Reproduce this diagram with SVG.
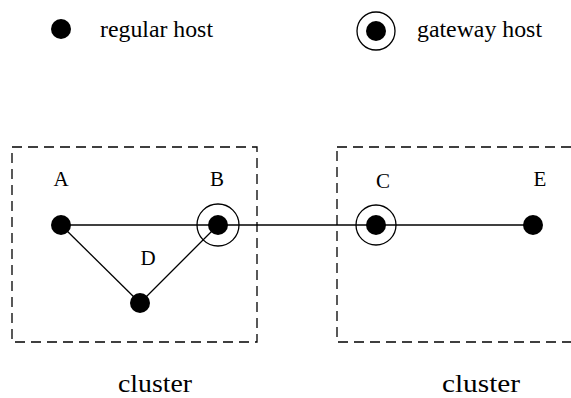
<svg xmlns="http://www.w3.org/2000/svg" width="571" height="398" viewBox="0 0 571 398">
  <style>
    .txt { font-family: "Liberation Serif", "Times New Roman", "DejaVu Serif", serif; fill: #000; }
    .legend { font-size: 24px; }
    .label { font-size: 21px; text-anchor: middle; }
    .cap { font-size: 25px; text-anchor: middle; }
    .dot { fill: #000; }
    .ring { fill: none; stroke: #000; stroke-width: 1.3; }
    .link { stroke: #000; stroke-width: 1.3; fill: none; }
    .cluster { fill: none; stroke: #000; stroke-width: 1.3; stroke-dasharray: 10 6; }
  </style>
  <rect width="571" height="398" fill="#fff"/>

  <!-- legend -->
  <g id="legend">
    <circle class="dot" cx="61" cy="29" r="10"/>
    <text class="txt legend" font-family="Liberation Serif, serif" x="100" y="37" textLength="113" lengthAdjust="spacingAndGlyphs">regular host</text>
    <circle class="ring" cx="376" cy="31" r="19"/>
    <circle class="dot" cx="376" cy="31" r="10"/>
    <text class="txt legend" font-family="Liberation Serif, serif" x="417" y="37" textLength="125" lengthAdjust="spacingAndGlyphs">gateway host</text>
  </g>

  <!-- clusters -->
  <g id="cluster-left">
    <rect class="cluster" x="12" y="147" width="245" height="195"/>
    <text class="txt cap" x="155" y="392" textLength="74" lengthAdjust="spacingAndGlyphs">cluster</text>
  </g>
  <g id="cluster-right">
    <rect class="cluster" x="337" y="147" width="260" height="195"/>
    <text class="txt cap" x="481" y="392" textLength="78" lengthAdjust="spacingAndGlyphs">cluster</text>
  </g>

  <!-- connectors -->
  <g id="connectors">
    <line class="link" x1="61" y1="225" x2="533" y2="225"/>
    <line class="link" x1="61" y1="225" x2="140" y2="303"/>
    <line class="link" x1="140" y1="303" x2="218" y2="225"/>
  </g>

  <!-- hosts -->
  <g id="node-A">
    <circle class="dot" cx="61" cy="225" r="10"/>
    <text class="txt label" x="61" y="186">A</text>
  </g>
  <g id="node-B">
    <circle class="ring" cx="218" cy="225" r="21"/>
    <circle class="dot" cx="218" cy="225" r="10"/>
    <text class="txt label" x="217" y="186">B</text>
  </g>
  <g id="node-D">
    <circle class="dot" cx="140" cy="303" r="10"/>
    <text class="txt label" x="148" y="265">D</text>
  </g>
  <g id="node-C">
    <circle class="ring" cx="376" cy="225" r="20"/>
    <circle class="dot" cx="376" cy="225" r="10"/>
    <text class="txt label" x="383" y="188">C</text>
  </g>
  <g id="node-E">
    <circle class="dot" cx="533" cy="225" r="10"/>
    <text class="txt label" x="540" y="186">E</text>
  </g>
</svg>
